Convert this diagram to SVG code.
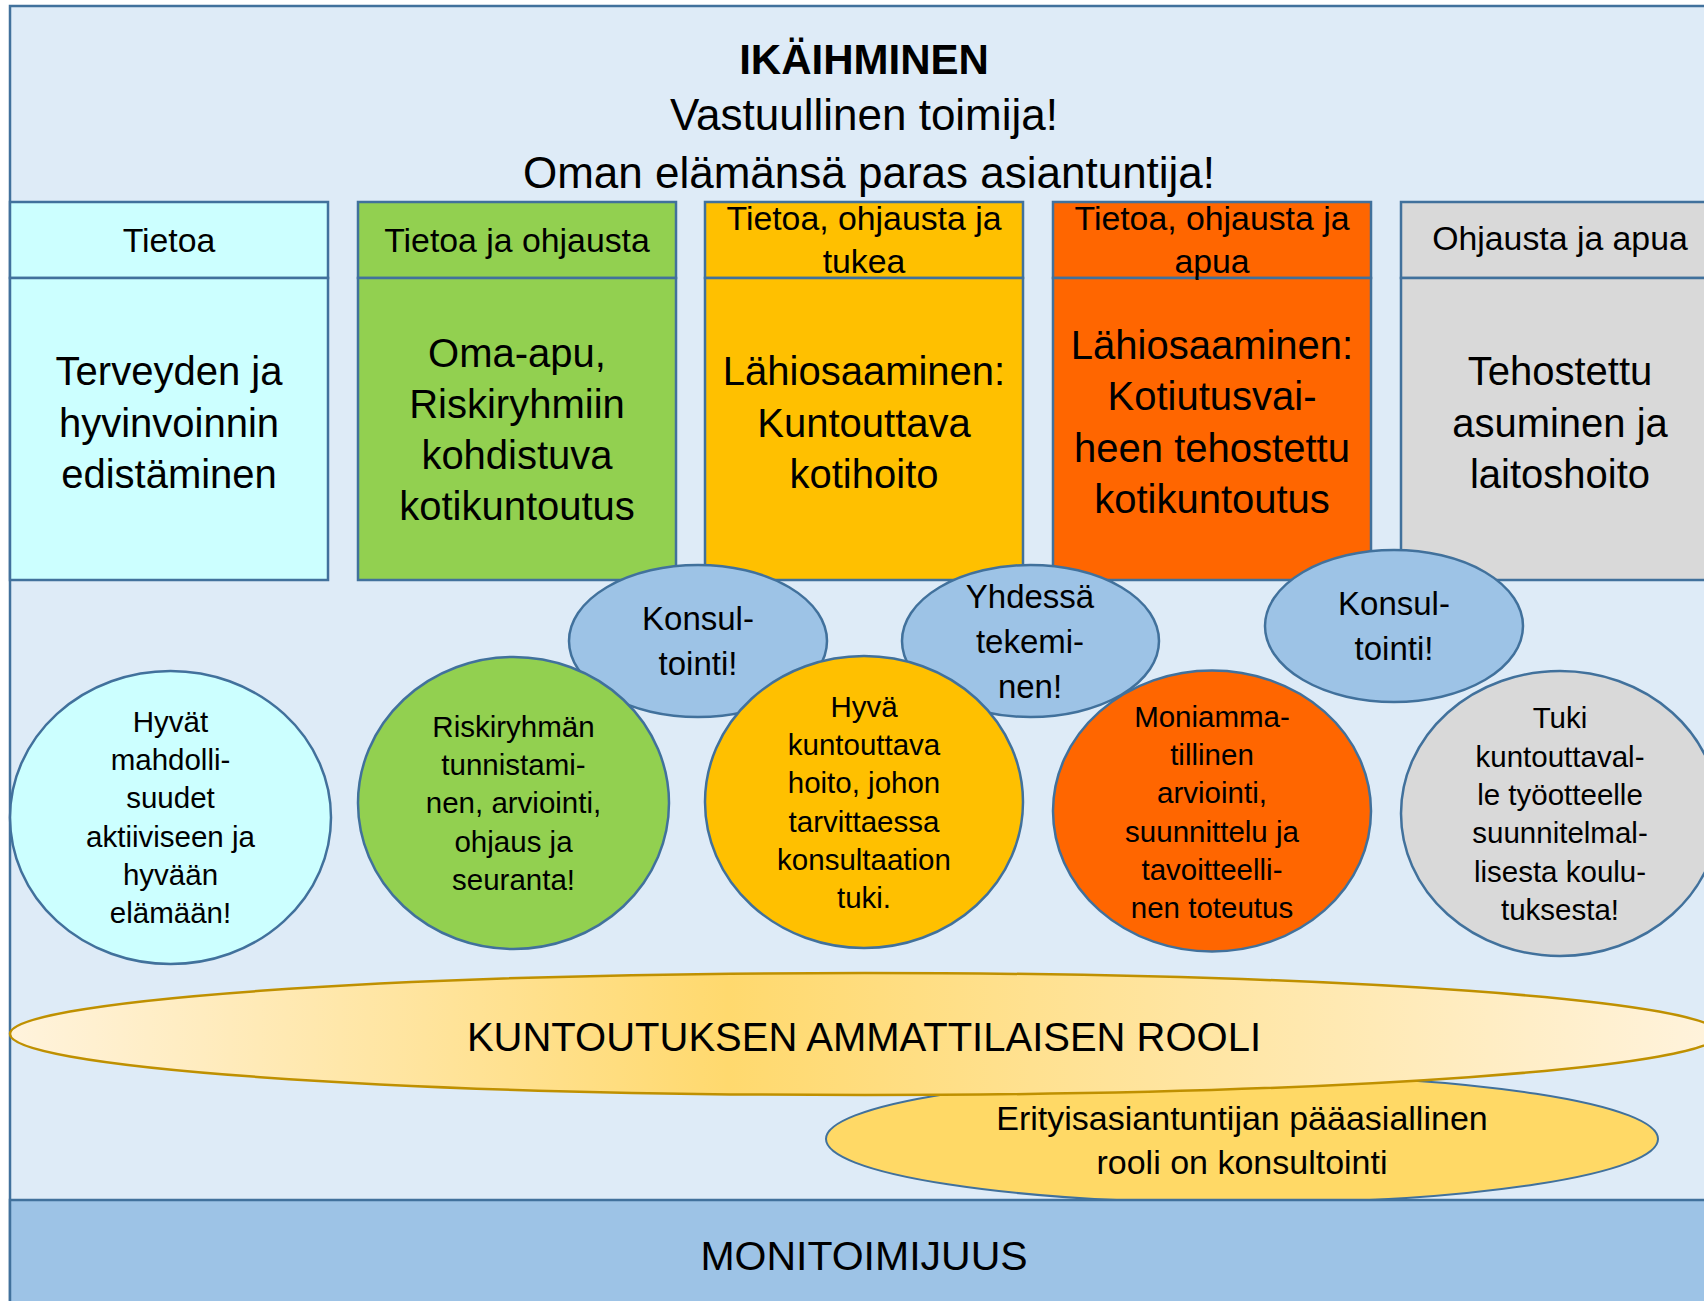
<svg xmlns="http://www.w3.org/2000/svg" width="1704" height="1301" viewBox="0 0 1704 1301">
<defs>
<linearGradient id="goldGrad" x1="0" y1="0" x2="1" y2="0">
<stop offset="0" stop-color="#FFF3DD"/>
<stop offset="0.42" stop-color="#FFD96E"/>
<stop offset="1" stop-color="#FFF3DD"/>
</linearGradient>
<style>
text{font-family:"Liberation Sans",Arial,sans-serif;fill:#000;text-anchor:middle}
.box{stroke:#41719C;stroke-width:2.5}
.ell{stroke:#41719C;stroke-width:2.5}
.hd{font-size:33.8px}
.bd{font-size:40px}
.sm{font-size:29.5px}
.bl{font-size:33px}
.c1{fill:#CCFFFF}.c2{fill:#92D050}.c3{fill:#FFC000}.c4{fill:#FF6600}.c5{fill:#D9D9D9}.cb{fill:#9DC3E6}
</style>
</defs>
<g id="frame">
<rect x="10" y="6" width="1730" height="1320" fill="#DEEBF7" stroke="#41719C" stroke-width="2.5"/>
<text x="864" y="74" font-size="42" font-weight="bold">IKÄIHMINEN</text>
<text x="864" y="130" font-size="44">Vastuullinen toimija!</text>
<text x="869" y="188" font-size="44">Oman elämänsä paras asiantuntija!</text>
</g>
<g id="col1">
<rect class="box c1" x="10" y="202" width="318" height="76"/>
<rect class="box c1" x="10" y="278" width="318" height="302"/>
<text class="hd" x="169" y="252">Tietoa</text>
<text class="bd" x="169" y="385">Terveyden ja</text>
<text class="bd" x="169" y="437">hyvinvoinnin</text>
<text class="bd" x="169" y="488">edistäminen</text>
</g>
<g id="col2">
<rect class="box c2" x="358" y="202" width="318" height="76"/>
<rect class="box c2" x="358" y="278" width="318" height="302"/>
<text class="hd" x="517" y="252">Tietoa ja ohjausta</text>
<text class="bd" x="517" y="367">Oma-apu,</text>
<text class="bd" x="517" y="418">Riskiryhmiin</text>
<text class="bd" x="517" y="469">kohdistuva</text>
<text class="bd" x="517" y="520">kotikuntoutus</text>
</g>
<g id="col3">
<rect class="box c3" x="705" y="202" width="318" height="76"/>
<rect class="box c3" x="705" y="278" width="318" height="302"/>
<text class="hd" x="864" y="230">Tietoa, ohjausta ja</text>
<text class="hd" x="864" y="273">tukea</text>
<text class="bd" x="864" y="385">Lähiosaaminen:</text>
<text class="bd" x="864" y="437">Kuntouttava</text>
<text class="bd" x="864" y="488">kotihoito</text>
</g>
<g id="col4">
<rect class="box c4" x="1053" y="202" width="318" height="76"/>
<rect class="box c4" x="1053" y="278" width="318" height="302"/>
<text class="hd" x="1212" y="230">Tietoa, ohjausta ja</text>
<text class="hd" x="1212" y="273">apua</text>
<text class="bd" x="1212" y="359">Lähiosaaminen:</text>
<text class="bd" x="1212" y="410">Kotiutusvai-</text>
<text class="bd" x="1212" y="462">heen tehostettu</text>
<text class="bd" x="1212" y="513">kotikuntoutus</text>
</g>
<g id="col5">
<rect class="box c5" x="1401" y="202" width="318" height="76"/>
<rect class="box c5" x="1401" y="278" width="318" height="302"/>
<text class="hd" x="1560" y="250">Ohjausta ja apua</text>
<text class="bd" x="1560" y="385">Tehostettu</text>
<text class="bd" x="1560" y="437">asuminen ja</text>
<text class="bd" x="1560" y="488">laitoshoito</text>
</g>
<g id="erityis">
<ellipse cx="1242" cy="1139" rx="416" ry="64" fill="#FFD966" stroke="#41719C" stroke-width="2"/>
<text x="1242" y="1130" font-size="34">Erityisasiantuntijan pääasiallinen</text>
<text x="1242" y="1174" font-size="34">rooli on konsultointi</text>
</g>
<g id="kuntoutus">
<ellipse cx="864.5" cy="1034" rx="854.5" ry="61" fill="url(#goldGrad)" stroke="#BF9000" stroke-width="2.5"/>
<text x="864" y="1051" font-size="40">KUNTOUTUKSEN AMMATTILAISEN ROOLI</text>
</g>
<g id="monitoimijuus">
<rect x="10" y="1200" width="1730" height="120" fill="#9DC3E6" stroke="#41719C" stroke-width="2.5"/>
<text x="864" y="1270" font-size="41">MONITOIMIJUUS</text>
</g>
<g id="konsultointi1">
<ellipse class="ell cb" cx="698" cy="641" rx="129" ry="76"/>
<text class="bl" x="698" y="630">Konsul-</text>
<text class="bl" x="698" y="675">tointi!</text>
</g>
<g id="yhdessa">
<ellipse class="ell cb" cx="1030.5" cy="641" rx="128.5" ry="76"/>
<text class="bl" x="1030" y="608">Yhdessä</text>
<text class="bl" x="1030" y="653">tekemi-</text>
<text class="bl" x="1030" y="698">nen!</text>
</g>
<g id="konsultointi2">
<ellipse class="ell cb" cx="1394" cy="626" rx="129" ry="76"/>
<text class="bl" x="1394" y="615">Konsul-</text>
<text class="bl" x="1394" y="660">tointi!</text>
</g>
<g id="e-cyan">
<ellipse class="ell c1" cx="170.5" cy="817.5" rx="160.5" ry="146.5"/>
<text class="sm" x="170.5" y="732">Hyvät</text>
<text class="sm" x="170.5" y="770">mahdolli-</text>
<text class="sm" x="170.5" y="808">suudet</text>
<text class="sm" x="170.5" y="847">aktiiviseen ja</text>
<text class="sm" x="170.5" y="885">hyvään</text>
<text class="sm" x="170.5" y="923">elämään!</text>
</g>
<g id="e-green">
<ellipse class="ell c2" cx="513.5" cy="803" rx="155.5" ry="146"/>
<text class="sm" x="513.5" y="737">Riskiryhmän</text>
<text class="sm" x="513.5" y="775">tunnistami-</text>
<text class="sm" x="513.5" y="813">nen, arviointi,</text>
<text class="sm" x="513.5" y="852">ohjaus ja</text>
<text class="sm" x="513.5" y="890">seuranta!</text>
</g>
<g id="e-yellow">
<ellipse class="ell c3" cx="864" cy="802" rx="159" ry="146"/>
<text class="sm" x="864" y="717">Hyvä</text>
<text class="sm" x="864" y="755">kuntouttava</text>
<text class="sm" x="864" y="793">hoito, johon</text>
<text class="sm" x="864" y="832">tarvittaessa</text>
<text class="sm" x="864" y="870">konsultaation</text>
<text class="sm" x="864" y="908">tuki.</text>
</g>
<g id="e-orange">
<ellipse class="ell c4" cx="1212" cy="811" rx="159" ry="140.5"/>
<text class="sm" x="1212" y="727">Moniamma-</text>
<text class="sm" x="1212" y="765">tillinen</text>
<text class="sm" x="1212" y="803">arviointi,</text>
<text class="sm" x="1212" y="842">suunnittelu ja</text>
<text class="sm" x="1212" y="880">tavoitteelli-</text>
<text class="sm" x="1212" y="918">nen toteutus</text>
</g>
<g id="e-grey">
<ellipse class="ell c5" cx="1560" cy="813.5" rx="159" ry="142.5"/>
<text class="sm" x="1560" y="728">Tuki</text>
<text class="sm" x="1560" y="767">kuntouttaval-</text>
<text class="sm" x="1560" y="805">le työotteelle</text>
<text class="sm" x="1560" y="843">suunnitelmal-</text>
<text class="sm" x="1560" y="882">lisesta koulu-</text>
<text class="sm" x="1560" y="920">tuksesta!</text>
</g>
<g id="connectors"/>
</svg>
